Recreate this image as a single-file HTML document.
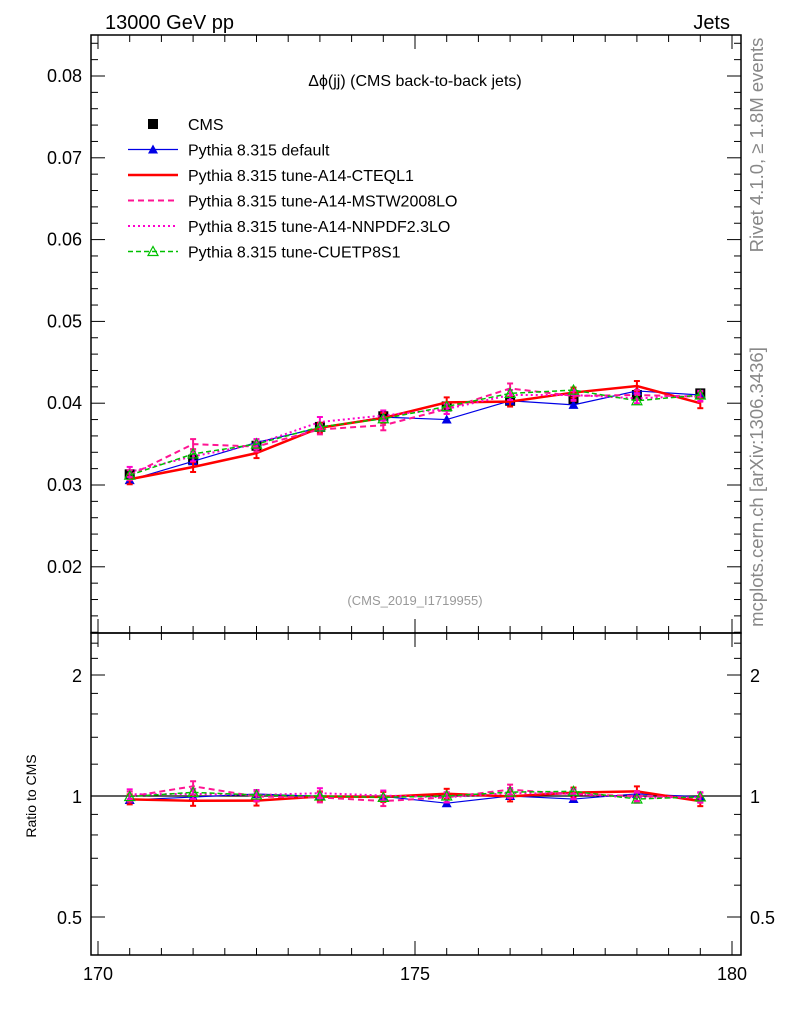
<!DOCTYPE html>
<html><head><meta charset="utf-8"><style>
body{margin:0;background:#fff}
svg{font-family:"Liberation Sans",sans-serif}
</style></head><body>
<svg id="c" width="786" height="1024">
<text x="105" y="29" font-size="20">13000 GeV pp</text>
<text x="730" y="29" font-size="20" text-anchor="end">Jets</text>
<text x="415" y="86" font-size="16" text-anchor="middle">Δϕ(jj) (CMS back-to-back jets)</text>
<text x="415" y="605" font-size="13" fill="#999" text-anchor="middle">(CMS_2019_I1719955)</text>
<text transform="translate(763,145) rotate(-90)" font-size="18.5" fill="#888" text-anchor="middle">Rivet 4.1.0, ≥ 1.8M events</text>
<text transform="translate(763,487) rotate(-90)" font-size="18.5" fill="#888" text-anchor="middle">mcplots.cern.ch [arXiv:1306.3436]</text>
<text transform="translate(36,796) rotate(-90)" font-size="14" text-anchor="middle">Ratio to CMS</text>
<g id="g"></g>
</svg>
<script>
const xBins=[170.5,171.5,172.5,173.5,174.5,175.5,176.5,177.5,178.5,179.5];
const cms=[0.0313,0.0331,0.0348,0.0371,0.0384,0.0396,0.0403,0.0405,0.0410,0.0412];
const pyDefault=[0.0306,0.0329,0.0352,0.0370,0.0383,0.0380,0.0403,0.0398,0.0415,0.0410];
const pyCteq=[0.0307,0.0322,0.0339,0.0370,0.0382,0.0401,0.0402,0.0413,0.0421,0.0400];
const pyMstw=[0.0312,0.0350,0.0347,0.0368,0.0373,0.0393,0.0418,0.0409,0.0410,0.0408];
const pyNnpdf=[0.0316,0.0335,0.0350,0.0377,0.0385,0.0393,0.0410,0.0410,0.0406,0.0409];
const pyCuetp=[0.0312,0.0338,0.0350,0.0371,0.0381,0.0396,0.0412,0.0416,0.0403,0.0410];
const mainTicks=[0.02,0.03,0.04,0.05,0.06,0.07,0.08];
const ratioTicks=[0.5,1,2];
const xTicks=[170,175,180];
const NS="http://www.w3.org/2000/svg",g=document.getElementById('g');
const L=91,R=741,T=35,M=633,B=955;
const X=v=>98+(v-170)*63.4;
const Y=v=>485-(v-0.03)*8180;
const RY=v=>796-Math.log2(v)*121;
function el(t,a,p){const e=document.createElementNS(NS,t);for(const k in a)e.setAttribute(k,a[k]);(p||g).appendChild(e);return e;}
let f=el('rect',{x:L,y:T,width:R-L,height:M-T,fill:'none',stroke:'#000','stroke-width':1.5});


f=el('rect',{x:L,y:M,width:R-L,height:B-M,fill:'none',stroke:'#000','stroke-width':1.5});


for(let v=0.012;v<=0.085;v+=0.002){const y=Y(v);if(y<T||y>M)continue;const maj=Math.abs(v*100-Math.round(v*100))<1e-6;
el('line',{x1:L,x2:L+(maj?14:7),y1:y,y2:y,stroke:'#000'});el('line',{x1:R,x2:R-(maj?14:7),y1:y,y2:y,stroke:'#000'});}
mainTicks.forEach(v=>{const t=el('text',{x:82,y:Y(v)+6,'font-size':18,'text-anchor':'end'});t.textContent=v.toFixed(2);

});
[0.5,0.6,0.7,0.8,0.9,1,1.2,1.4,1.6,1.8,2,2.2,2.4].forEach(v=>{const y=RY(v);const maj=ratioTicks.includes(v);
el('line',{x1:L,x2:L+(maj?14:7),y1:y,y2:y,stroke:'#000'});el('line',{x1:R,x2:R-(maj?14:7),y1:y,y2:y,stroke:'#000'});});
ratioTicks.forEach(v=>{[[82,'end'],[750,'start']].forEach(([x,a])=>{const t=el('text',{x:x,y:RY(v)+7,'font-size':18,'text-anchor':a});t.textContent=String(v);

});});
el('line',{x1:L,x2:R,y1:RY(1),y2:RY(1),stroke:'#000','stroke-width':1.2});
for(let v=170;v<=180.1;v+=0.5){const x=X(v);const maj=v%5===0;
[[T,1],[M,-1],[M,1],[B,-1]].forEach(([y0,d])=>el('line',{x1:x,x2:x,y1:y0,y2:y0+d*(maj?14:7),stroke:'#000'}));}
xTicks.forEach(v=>{const t=el('text',{x:X(v),y:980,'font-size':18,'text-anchor':'middle'});t.textContent=String(v);

});
const series=[
 {d:pyDefault,c:'#0000e6',w:1.2,da:'',m:'tri',n:'pythia-default'},
 {d:pyCteq,c:'#ff0000',w:2.5,da:'',m:'bar',n:'pythia-cteql1'},
 {d:pyMstw,c:'#ff1493',w:2,da:'6,4',m:'bar',n:'pythia-mstw2008lo'},
 {d:pyNnpdf,c:'#ff00cc',w:2,da:'2,3',m:'bar',n:'pythia-nnpdf23lo'},
 {d:pyCuetp,c:'#00c000',w:1.5,da:'5,3',m:'otri',n:'pythia-cuetp8s1'}];
function marker(s,x,y){if(s.m==='tri')el('path',{d:`M${x-5},${y+4}L${x+5},${y+4}L${x},${y-5}Z`,fill:s.c});
 else if(s.m==='otri')el('path',{d:`M${x-5},${y+4}L${x+5},${y+4}L${x},${y-5}Z`,fill:'none',stroke:s.c,'stroke-width':1.2});
 else {el('line',{x1:x,x2:x,y1:y-5,y2:y+5,stroke:s.c,'stroke-width':2});el('line',{x1:x-3,x2:x+3,y1:y-5,y2:y-5,stroke:s.c,'stroke-width':2});el('line',{x1:x-3,x2:x+3,y1:y+5,y2:y+5,stroke:s.c,'stroke-width':2});}}
cms.forEach((v,i)=>{const r=el('rect',{x:X(xBins[i])-5,y:Y(v)-5,width:10,height:10,fill:'#000'});

});
series.forEach(s=>{
 const p=el('polyline',{points:s.d.map((v,i)=>X(xBins[i])+','+Y(v)).join(' '),fill:'none',stroke:s.c,'stroke-width':s.w,'stroke-dasharray':s.da});
 
 
 const q=el('polyline',{points:s.d.map((v,i)=>X(xBins[i])+','+RY(v/cms[i])).join(' '),fill:'none',stroke:s.c,'stroke-width':s.w,'stroke-dasharray':s.da});
 
 
 s.d.forEach((v,i)=>{marker(s,X(xBins[i]),Y(v));marker(s,X(xBins[i]),RY(v/cms[i]));});
});
const leg=[{n:'CMS',t:'CMS'}].concat(series.map((s,i)=>({s:s,t:['Pythia 8.315 default','Pythia 8.315 tune-A14-CTEQL1','Pythia 8.315 tune-A14-MSTW2008LO','Pythia 8.315 tune-A14-NNPDF2.3LO','Pythia 8.315 tune-CUETP8S1'][i]})));
leg.forEach((e,i)=>{const y=124+i*25.5;
 if(e.s){el('line',{x1:128,x2:178,y1:y,y2:y,stroke:e.s.c,'stroke-width':e.s.w,'stroke-dasharray':e.s.da});if(e.s.m!=='bar')marker(e.s,153,y);}
 else el('rect',{x:148,y:y-5,width:10,height:10,fill:'#000'});
 const t=el('text',{x:188,y:y+6,'font-size':16});t.textContent=e.t;
 
 });
</script>
</body></html>
